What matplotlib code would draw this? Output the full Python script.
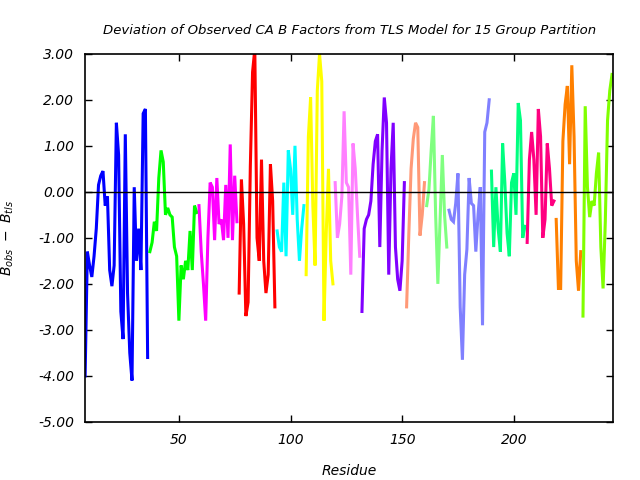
import matplotlib
matplotlib.use("Agg")
import matplotlib.pyplot as plt
from matplotlib.ticker import FormatStrFormatter
import numpy as np

# first residue of each TLS group, and deviation per residue (B_obs - B_tls)
group_starts = [8, 37, 59, 77, 94, 107, 120, 132, 152, 161, 171, 190, 206, 219, 231]
group_colors = ["#0000ff", "#00ff00", "#ff00ff", "#ff0000", "#00ffff",
                "#ffff00", "#ff80ff", "#8000ff", "#ff9977", "#80ff80",
                "#8080ff", "#00ff80", "#ff0080", "#ff8000", "#80ff00"]

dev_g1 = [-4.0, -1.3, -1.6, -1.85, -1.4, -0.8, 0.15, 0.35, 0.45, -0.3,
          -0.1, -1.7, -2.05, -1.6, 1.5, 0.8, -2.6, -3.2, 1.25, -2.2,
          -3.5, -4.1, 0.1, -1.5, -0.8, -1.7, 1.7, 1.8, -3.6]
dev_g2 = [-1.3, -1.1, -0.65, -0.85, 0.3, 0.9, 0.65, -0.5, -0.35, -0.5,
          -0.55, -1.2, -1.4, -2.8, -1.6, -1.9, -1.5, -1.7, -0.85, -1.7,
          -0.3, -0.45]
dev_g3 = [-0.3, -1.3, -2.0, -2.8, -1.0, 0.2, 0.1, -1.05, 0.3, -0.7,
          -0.6, -1.05, 0.15, -1.0, 1.03, -1.05, 0.35, -0.65]
dev_g4 = [-2.2, 0.27, -0.7, -2.7, -2.4, 0.55, 2.6, 3.1, -1.0, -1.5,
          0.7, -1.5, -2.2, -1.8, 0.6, -0.2, -2.5]
dev_g5 = [-0.85, -1.2, -1.3, 0.2, -1.4, 0.9, 0.5, -0.5, 1.0, -0.6,
          -1.5, -0.8, -0.3]
dev_g6 = [-1.8, 1.2, 2.05, -0.3, -1.6, 2.2, 3.0, 2.4, -2.8, -0.9,
          0.5, -1.5, -2.0]
dev_g7 = [0.2, -1.0, -0.7, -0.1, 1.75, 0.2, 0.1, -1.8, 1.05, 0.5,
          -0.5, -1.4]
dev_g8 = [-2.6, -0.8, -0.6, -0.5, -0.2, 0.6, 1.1, 1.25, -1.2, 0.9,
          2.05, 1.5, -1.8, 0.5, 1.5, -1.2, -1.9, -2.15, -1.5, 0.2]
dev_g9 = [-2.5, -0.9, 0.5, 1.15, 1.5, 1.4, -0.95, -0.5, 0.2]
dev_g10 = [-0.3, 0.05, 0.9, 1.65, -0.5, -2.0, -0.6, 0.8, -0.5, -1.2]
dev_g11 = [-0.4, -0.6, -0.65, -0.25, 0.4, -2.5, -3.65, -1.8, -1.25, 0.3,
           -0.25, -0.3, -1.3, -0.5, 0.1, -2.9, 1.3, 1.5, 2.0]
dev_g12 = [0.45, -1.2, 0.1, -0.8, -1.3, 1.05, 0.2, -0.9, -1.4, 0.2,
           0.4, -0.5, 1.93, 1.55, -1.0, -0.75]
dev_g13 = [-1.1, 0.7, 1.3, 0.7, -0.5, 1.8, 1.2, -1.0, -0.6, 1.05,
           0.5, -0.3, -0.2]
dev_g14 = [-0.6, -2.1, -2.1, 1.1, 1.9, 2.3, 0.6, 2.75, 1.2, -1.5,
           -2.15, -1.3]
dev_g15 = [-2.7, 1.86, 0.1, -0.55, -0.2, -0.3, 0.4, 0.85, -1.2, -2.1,
           -0.65, 1.55, 2.2, 2.55]

groups = [dev_g1, dev_g2, dev_g3, dev_g4, dev_g5, dev_g6, dev_g7, dev_g8,
          dev_g9, dev_g10, dev_g11, dev_g12, dev_g13, dev_g14, dev_g15]

fig = plt.figure(figsize=(6.4, 4.8), dpi=100)
ax = fig.add_axes([0.133, 0.121, 0.825, 0.767])

for start, vals, col in zip(group_starts, groups, group_colors):
    res = np.arange(start, start + len(vals))
    ax.plot(res, vals, color=col, lw=2.2, solid_joinstyle="miter")

ax.axhline(0, color="black", lw=1.0)

ax.set_xlim(8, 244.5)
ax.set_ylim(-5, 3)
ax.set_xticks([50, 100, 150, 200])
ax.set_yticks(np.arange(-5, 4, 1))
ax.yaxis.set_major_formatter(FormatStrFormatter("%.2f"))
ax.tick_params(direction="in", top=True, right=True, length=5, width=1,
               labelsize=10, pad=8)
for lab in ax.get_xticklabels() + ax.get_yticklabels():
    lab.set_fontstyle("italic")
for s in ax.spines.values():
    s.set_linewidth(1.2)

ax.set_title("Deviation of Observed CA B Factors from TLS Model for 15 Group Partition",
             fontsize=9.5, style="italic", pad=14)
ax.set_xlabel("Residue", fontsize=10, style="italic", labelpad=12)
ax.set_ylabel(r"$B_{obs}\ -\ B_{tls}$", fontsize=10, labelpad=16)

fig.savefig("out.png", dpi=100)
